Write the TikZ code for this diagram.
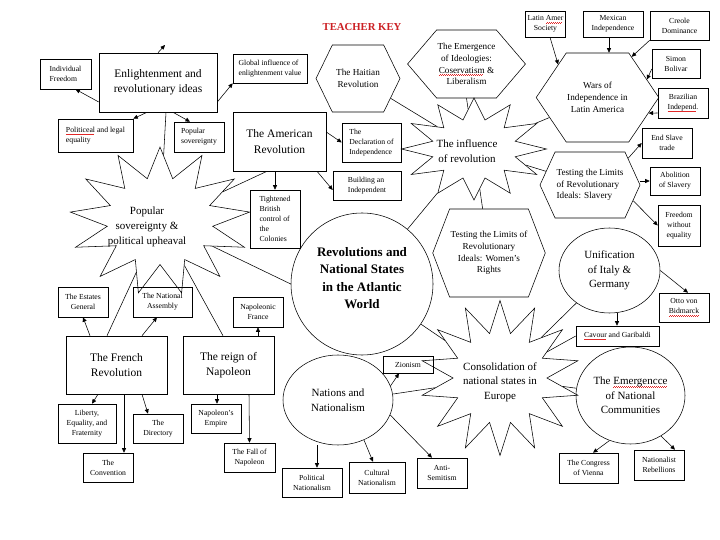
\documentclass[tikz,border=0pt]{standalone}
\usepackage{fontspec}
\setmainfont{Liberation Serif}
\usetikzlibrary{arrows.meta,shapes.geometric,shapes.symbols}
\definecolor{keyred}{RGB}{204,32,36}
\definecolor{spellred}{RGB}{226,40,40}
\newsavebox{\spellbox}
\newcommand{\spell}[1]{\sbox\spellbox{#1}\rlap{\textcolor{spellred}{\leaders\hbox to 2pt{\rule[-2.4pt]{1pt}{0.45pt}\rule[-1.9pt]{1pt}{0.45pt}}\hskip\wd\spellbox}}\usebox\spellbox}
\newcommand{\mapkey}{\bfseries\fontsize{10.7}{13}\selectfont}
\newcommand{\mapbig}{\fontsize{11.5}{15.5}\selectfont}
\newcommand{\mapoval}{\fontsize{11}{14.7}\selectfont}
\newcommand{\maphub}{\bfseries\fontsize{13}{17.5}\selectfont}
\newcommand{\maphex}{\fontsize{9.2}{11.8}\selectfont}
\newcommand{\mapsmall}{\fontsize{7.7}{10}\selectfont}
\tikzset{
  mainbox/.style={draw,align=center,font=\mapbig,inner sep=2pt},
  notebox/.style={draw,align=center,font=\mapsmall,inner sep=2pt},
  hexbox/.style={draw,signal,signal to=east and west,align=center,font=\maphex,inner sep=1pt},
  ovalbox/.style={draw,ellipse,align=center,font=\mapoval,inner sep=0pt},
  burst/.style={draw,star,star point ratio=1.7,inner sep=0pt,transform shape},
  bursttext/.style={align=center,font=\mapoval},
  link/.style={-{Triangle[length=4.5pt,width=4pt]}},
}

\begin{document}
\begin{tikzpicture}[x=1pt,y=-1pt,line width=0.55pt]
  \fill[white] (0,0) rectangle (720,540);
  \useasboundingbox (0,0) rectangle (720,540);
  \node[font=\mapkey,text=keyred] (key) at (362,27) {TEACHER KEY};

  \begin{scope}[shift={(160,221)},xscale=1.22]
    \node[burst,star points=13,minimum size=148] (popstar) {};
  \end{scope}
  \begin{scope}[shift={(474,149)},xscale=1.42]
    \node[burst,star points=12,minimum size=102] (infl) {};
  \end{scope}
  \begin{scope}[shift={(500,378)},xscale=1.03]
    \node[burst,star points=14,minimum size=155] (consol) {};
  \end{scope}
  \node[bursttext] (poptext) at (147,227) {Popular\\sovereignty \&\\political upheaval};
  \node[bursttext] (infltext) at (467,151) {The influence\\of revolution};
  \node[bursttext] (consoltext) at (500,382) {Consolidation of\\national states in\\Europe};

  \node[mainbox,minimum width=118,minimum height=59] (enl) at (158,82.5) {Enlightenment and\\revolutionary ideas};
  \node[notebox,align=left,minimum width=51,minimum height=30] (indiv) at (65.5,74) {Individual\\Freedom};
  \node[notebox,align=left,minimum width=74,minimum height=29] (glob) at (270,68.5) {Global influence of\\enlightenment value};
  \node[notebox,align=left,minimum width=75,minimum height=33] (poleq) at (95.5,135.5) {\spell{Politiceal} and legal\\equality};
  \node[notebox,align=left,minimum width=50,minimum height=30] (popsov) at (199,137) {Popular\\sovereignty};
  \node[mainbox,minimum width=93,minimum height=59] (amer) at (279.5,141.5) {The American\\Revolution};
  \node[notebox,align=left,minimum width=59,minimum height=39] (decl) at (371.5,142.5) {The\\Declaration of\\Independence};
  \node[notebox,align=left,minimum width=68,minimum height=29] (build) at (367,185.5) {Building an\\Independent};
  \node[notebox,align=left,minimum width=50,minimum height=58] (tight) at (275,219) {Tightened\\British\\control of\\the\\Colonies};

  \node[hexbox,signal pointer angle=128,minimum width=84,minimum height=67] (haiti) at (358,78.5) {The Haitian\\Revolution};
  \node[hexbox,signal pointer angle=99,minimum width=117,minimum height=68] (ideol) at (466.5,64) {The Emergence\\of Ideologies:\\\spell{Coservatism} \&\\Liberalism};
  \node[hexbox,signal pointer angle=112,minimum width=109,minimum height=89] (wars) at (597.5,97.5) {Wars of\\Independence in\\Latin America};
  \node[hexbox,align=left,signal pointer angle=131,minimum width=100,minimum height=66] (slavery) at (590,185) {Testing the Limits\\of Revolutionary\\Ideals: Slavery};
  \node[hexbox,signal pointer angle=138,minimum width=112,minimum height=88] (women) at (489,253) {Testing the Limits of\\Revolutionary\\Ideals: Women's\\Rights};

  \node[notebox,minimum width=39,minimum height=26] (latin) at (545.5,24) {Latin \spell{Amer}\\Society};
  \node[notebox,minimum width=60,minimum height=26] (mex) at (613,24) {Mexican\\Independence};
  \node[notebox,minimum width=59,minimum height=29] (creole) at (679.5,25.5) {Creole\\Dominance};
  \node[notebox,minimum width=48,minimum height=29] (bolivar) at (676,63.5) {Simon\\Bolivar};
  \node[notebox,minimum width=50,minimum height=30] (brazil) at (683,103) {Brazilian\\\spell{Independ}.};
  \node[notebox,minimum width=50,minimum height=30] (endslave) at (667,143) {End Slave\\trade};
  \node[notebox,minimum width=50,minimum height=28] (abol) at (675,181) {Abolition\\of Slavery};
  \node[notebox,minimum width=42,minimum height=41] (freedom) at (679,225.5) {Freedom\\without\\equality};

  \node[draw,circle,minimum size=142,inner sep=0pt] (hub) at (362,284) {};
  \node[font=\maphub,align=center] (hubtext) at (362,278) {Revolutions and\\National States\\in the Atlantic\\World};

  \node[ovalbox,minimum width=101,minimum height=85] (unif) at (609.5,270.5) {Unification\\of Italy \&\\Germany};
  \node[notebox,minimum width=50,minimum height=29] (otto) at (684,307.5) {Otto von\\\spell{Bidmarck}};
  \node[notebox,minimum width=83,minimum height=20] (cavour) at (617.5,336) {\spell{Cavour} and Garibaldi};
  \node[ovalbox,minimum width=109,minimum height=97] (emerg) at (630.5,395.5) {The \spell{Emergencce}\\of National\\Communities};
  \node[notebox,minimum width=59,minimum height=30] (vienna) at (588.5,468) {The Congress\\of Vienna};
  \node[notebox,minimum width=50,minimum height=30] (rebel) at (659,465) {Nationalist\\Rebellions};
  \node[ovalbox,minimum width=110,minimum height=90] (nations) at (338,400) {Nations and\\Nationalism};
  \node[notebox,minimum width=50,minimum height=17] (zion) at (408,364.5) {Zionism};
  \node[notebox,minimum width=60,minimum height=29] (polnat) at (312,482.5) {Political\\Nationalism};
  \node[notebox,minimum width=56,minimum height=31] (cultnat) at (377,477.5) {Cultural\\Nationalism};
  \node[notebox,minimum width=50,minimum height=30] (anti) at (442,473) {Anti-\\Semitism};

  \node[notebox,minimum width=50,minimum height=30] (estates) at (83,302) {The Estates\\General};
  \node[notebox,minimum width=59,minimum height=30] (natass) at (162.5,302) {The National\\Assembly};
  \node[mainbox,minimum width=101,minimum height=58] (french) at (116.5,365) {The French\\Revolution};
  \node[mainbox,minimum width=91,minimum height=58] (reign) at (228.5,365) {The reign of\\Napoleon};
  \node[notebox,minimum width=50,minimum height=30] (napfr) at (258,312) {Napoleonic\\France};
  \node[notebox,minimum width=58,minimum height=39] (liberty) at (87,423.5) {Liberty,\\Equality, and\\Fraternity};
  \node[notebox,minimum width=50,minimum height=29] (directory) at (158,428.5) {The\\Directory};
  \node[notebox,minimum width=50,minimum height=29] (convention) at (108,467.5) {The\\Convention};
  \node[notebox,minimum width=50,minimum height=29] (napemp) at (216,418.5) {Napoleon's\\Empire};
  \node[notebox,minimum width=51,minimum height=29] (fall) at (249.5,457.5) {The Fall of\\Napoleon};

  % plain connectors
  \draw ([xshift=8]enl.south) -- (popstar);
  \draw ([xshift=-12.5]amer.south) -- (popstar);
  \draw (popstar) -- (hub.west);
  \draw ([xshift=-9.5]french.north) -- (popstar);
  \draw ([xshift=-5.5]reign.north) -- (popstar);
  \draw (haiti) -- (infl);
  \draw (ideol.south) -- (infl);
  \foreach \t in {wars,slavery,women,hub} \draw (infl) -- (\t);
  \draw (hub) -- (consol);
  \draw ([yshift=6]nations.east) -- (consol);
  \foreach \t in {unif,emerg,cavour.west} \draw (consol) -- (\t);

  % arrows
  \coordinate (enltip) at (165,45);
  \draw[link] (enl.north) -- (enltip);
  \draw[link] ([yshift=-19.5]enl.west) -- ([xshift=10]indiv.south);
  \draw[link] ([yshift=-19.5]enl.east) -- (glob.south west);
  \draw[link] ([xshift=-11]enl.south) -- (poleq.north east);
  \draw[link] ([xshift=15]enl.south) -- ([xshift=-9]popsov.north);
  \draw[link] ([yshift=9.5]amer.east) -- (decl.west);
  \draw[link] ([xshift=37.5]amer.south) -- ([yshift=-4.5]build.west);
  \draw[link] ([xshift=-4.5]amer.south) -- (tight.north);
  \draw[link] ([xshift=4.5]latin.south) -- (wars.140);
  \draw[link] ([xshift=-4]mex.south) -- ([xshift=11.5]wars.north);
  \draw[link] (creole.south west) -- (wars.50);
  \draw[link] ([yshift=-5.5]bolivar.west) -- (wars.20);
  \draw[link] ([yshift=-10]brazil.west) -- (wars.-17);
  \draw[link] (slavery.35) -- (endslave.west);
  \draw[link] ([yshift=4]slavery.east) -- (abol.west);
  \draw[link] (slavery.-20) -- (freedom.west);
  \draw[link] (unif.east) -- ([xshift=4]otto.north);
  \draw[link] ([xshift=7.5]unif.south) -- ([xshift=-0.5]cavour.north);
  \draw[link] (emerg.-115) -- ([xshift=4.5]vienna.north);
  \draw[link] (emerg.-53) -- ([xshift=16]rebel.north);
  \draw[link] (nations.15) -- ([xshift=-9]zion.south);
  \draw[link] ([xshift=-21]nations.south) -- ([xshift=5]polnat.north);
  \draw[link] (nations.-57) -- ([xshift=-4]cultnat.north);
  \draw[link] (nations.-16) -- ([xshift=-10]anti.north);
  \draw[link] ([xshift=-26.5]french.north) -- (estates.south);
  \draw[link] ([xshift=25.5]french.north) -- ([xshift=-5.5]natass.south);
  \draw[link] ([xshift=-18.5]french.south) -- ([xshift=5]liberty.north);
  \draw[link] ([xshift=25.5]french.south) -- ([xshift=-10]directory.north);
  \draw[link] ([xshift=7.5]french.south) -- ([xshift=16]convention.north);
  \draw[link] ([xshift=29.5]reign.north) -- (napfr.south);
  \draw[link] ([xshift=-11.5]reign.south) -- ([xshift=1]napemp.north);
  \draw[link] ([xshift=20.5]reign.south) -- (fall.north);
\end{tikzpicture}
\end{document}
